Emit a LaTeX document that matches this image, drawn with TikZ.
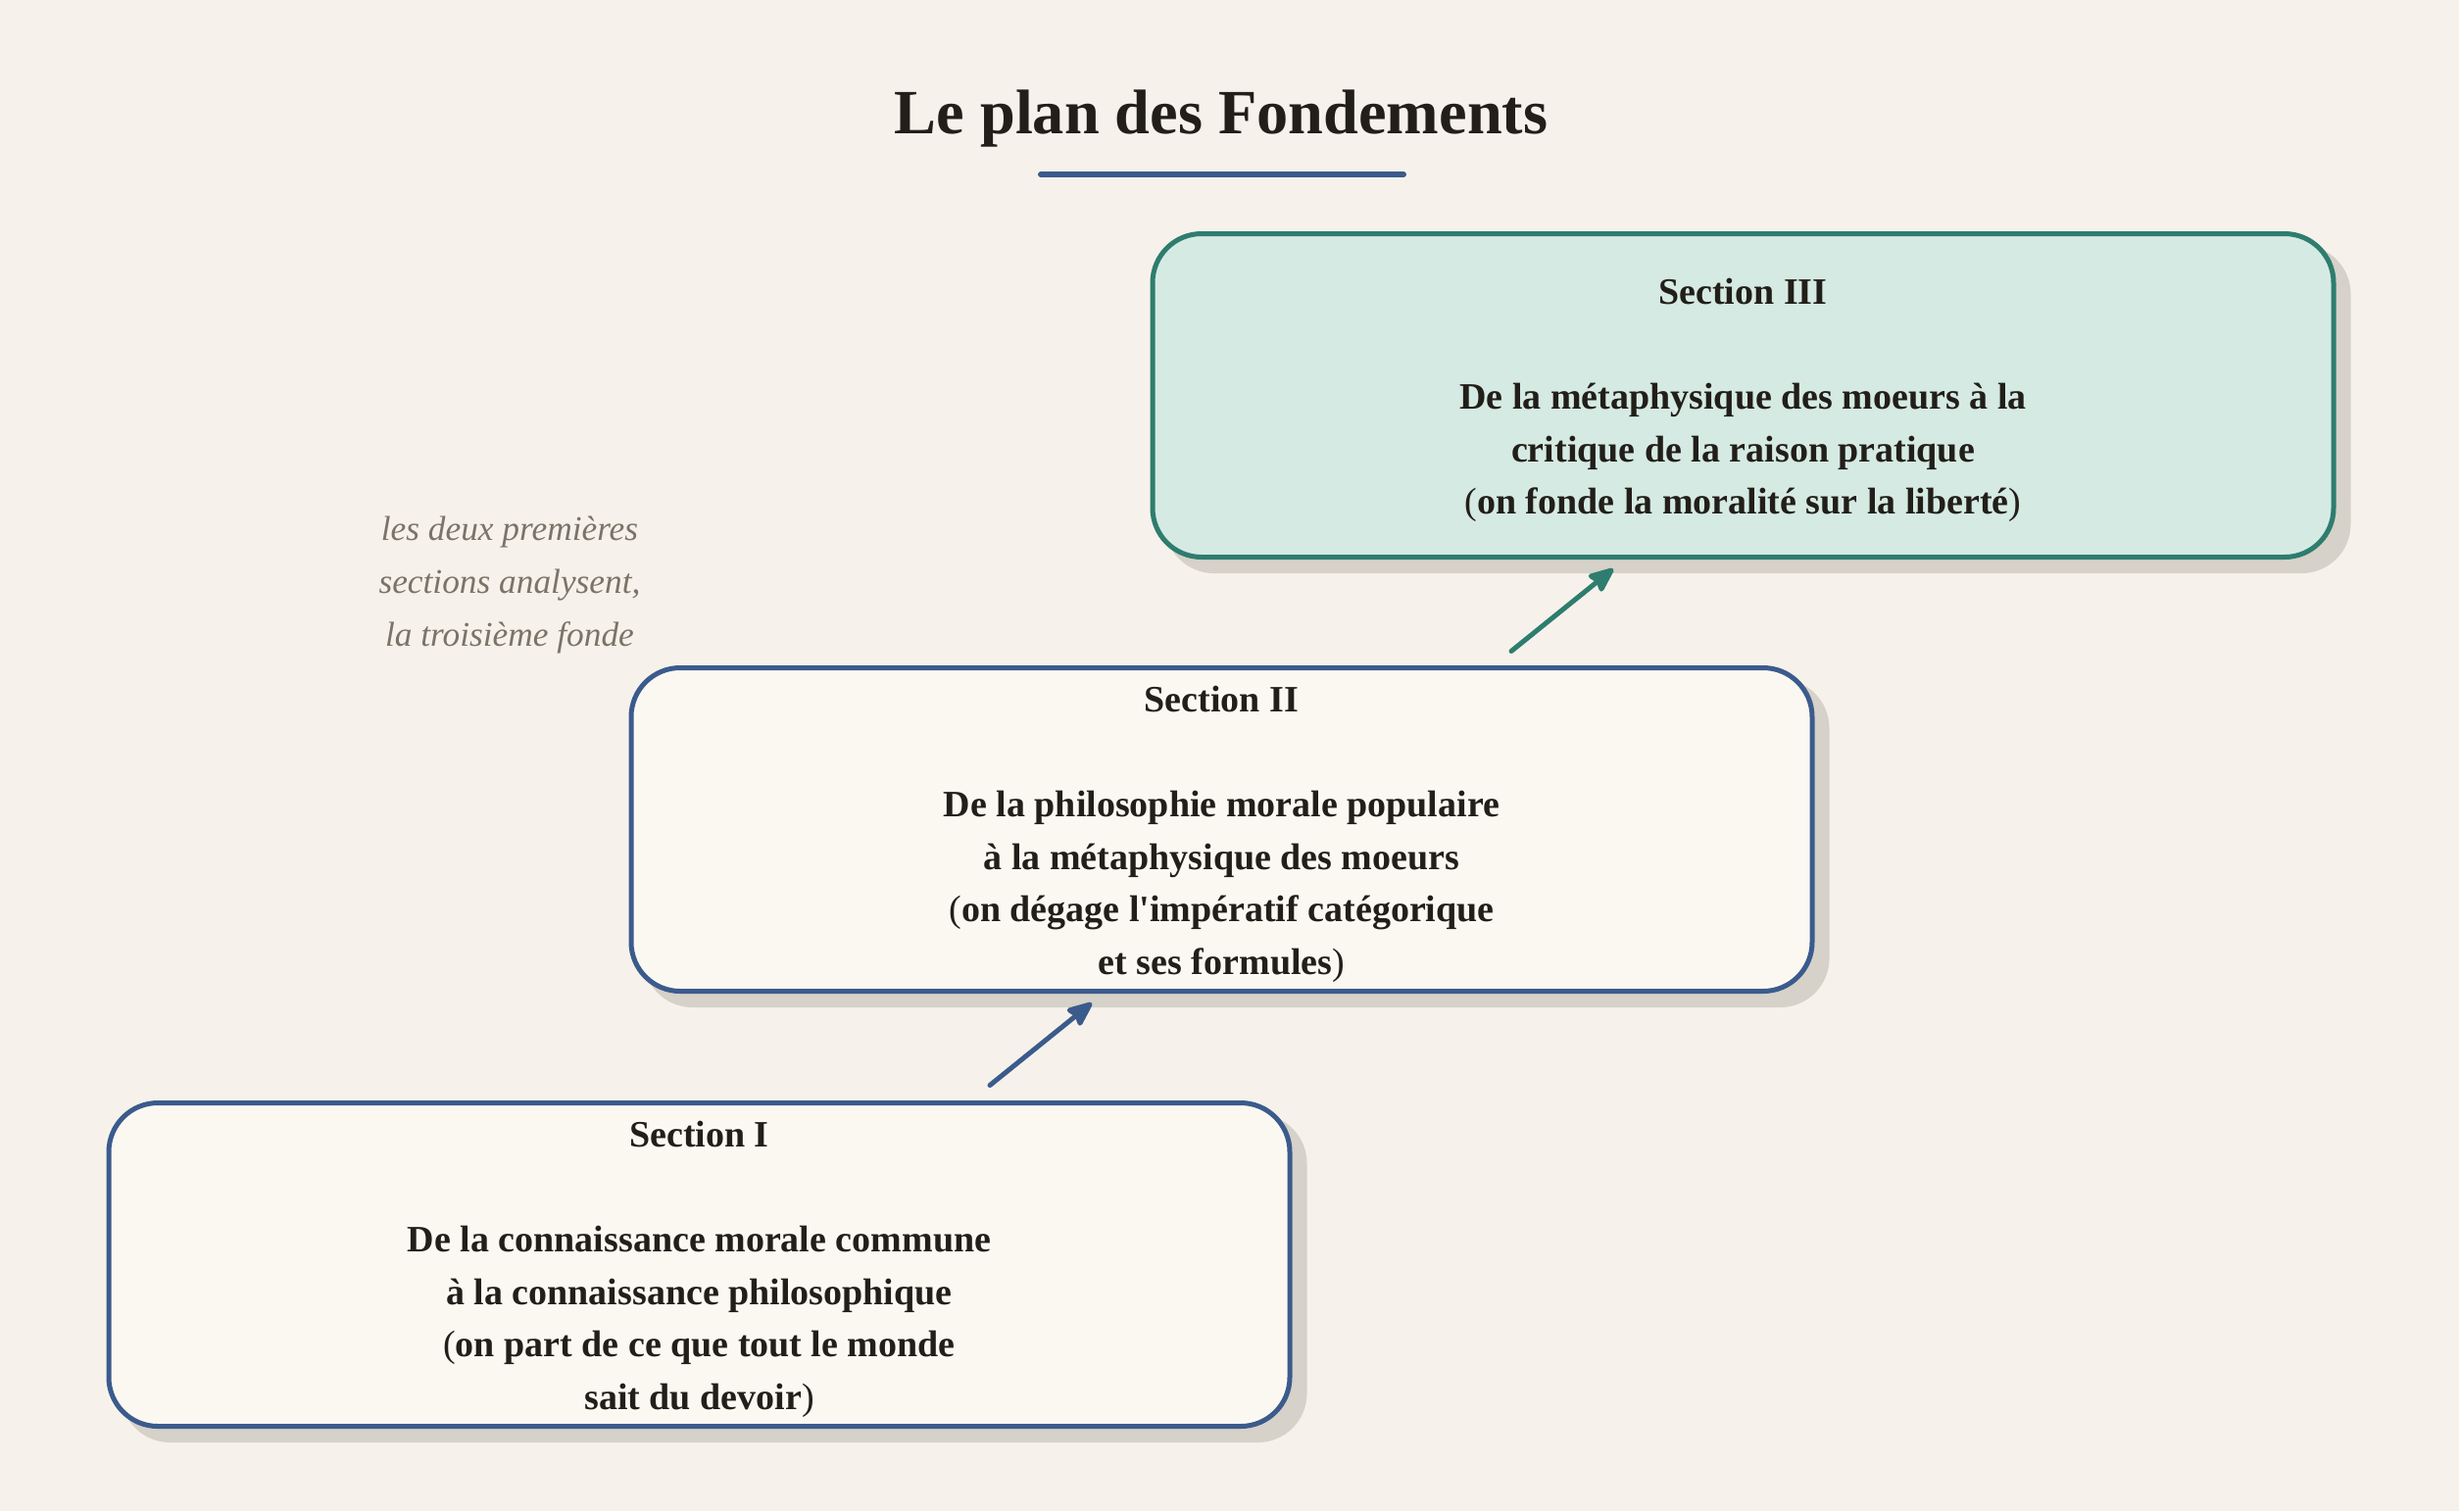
\documentclass[tikz,border=0pt]{standalone}
\usepackage{fontspec}
\setmainfont{Liberation Serif}
\usetikzlibrary{arrows.meta,calc,backgrounds}
\definecolor{bgc}{HTML}{F6F2EB}
\definecolor{boxc}{HTML}{FBF8F2}
\definecolor{tealfill}{HTML}{D5EAE3}
\definecolor{bluec}{HTML}{3B5B8D}
\definecolor{tealc}{HTML}{2E7D6E}
\definecolor{shadowc}{HTML}{D6D1C9}
\definecolor{inkc}{HTML}{221E19}
\definecolor{notec}{HTML}{7A7468}
\def\u{0.3pt}
\newcommand{\lp}{{\mdseries(}}
\newcommand{\rp}{{\mdseries)}}
\begin{document}
\begin{tikzpicture}[x=0.3pt,y=-0.3pt,
  secbox/.style={rounded corners=15pt, line width=1.5pt, minimum width=1205*\u, minimum height=330*\u, inner sep=0pt},
  bluebox/.style={secbox, draw=bluec, fill=boxc},
  tealbox/.style={secbox, draw=tealc, fill=tealfill},
  boxtext/.style={align=center, text=inkc, font=\fontsize{11.4}{16.05}\selectfont\bfseries, inner sep=0pt},
  conn/.style={line width=1.5pt, line cap=round, -{Stealth[length=9pt,width=7.5pt,inset=1.2pt,round]}},
  notetext/.style={align=center, text=notec, font=\fontsize{10.6}{16.1}\selectfont\itshape},
  shade/.style={fill=shadowc, rounded corners=15pt}
]
\useasboundingbox (0,0) rectangle (2509,1542);

\node[font=\fontsize{19.3}{23}\selectfont\bfseries, text=inkc, anchor=base] (title) at (1246,136) {Le plan des Fondements};
\coordinate (ul1) at (1062,178);
\coordinate (ul2) at (1432,178);
\draw[bluec, line width=1.8pt, line cap=round] (ul1) -- (ul2);

\node[tealbox] (s3) at (1778.5,403.5) {};
\node[bluebox] (s2) at (1246.5,846.5) {};
\node[bluebox] (s1) at (713.5,1290.5) {};

\node[boxtext] (t3) at ($(s3.center)+(0,5)$) {Section III\\[16.05pt]De la métaphysique des moeurs à la\\critique de la raison pratique\\\lp on fonde la moralité sur la liberté\rp};
\node[boxtext] (t2) at ($(s2.center)+(0,5)$) {Section II\\[16.05pt]De la philosophie morale populaire\\à la métaphysique des moeurs\\\lp on dégage l\textquotesingle impératif catégorique\\et ses formules\rp};
\node[boxtext] (t1) at ($(s1.center)+(0,5)$) {Section I\\[16.05pt]De la connaissance morale commune\\à la connaissance philosophique\\\lp on part de ce que tout le monde\\sait du devoir\rp};

\begin{scope}[on background layer]
\fill[bgc] (0,0) rectangle (2509,1542);
\foreach \n in {s1,s2,s3}{
  \fill[shade] ($(\n.north west)+(15,14)$) rectangle ($(\n.south east)+(15,14)$);
}
\end{scope}

\node[notetext] (note) at (520,597) {les deux premières\\sections analysent,\\la troisième fonde};

\coordinate (a1s) at ($(s1.north)+(296.5,-15.5)$);
\coordinate (a1e) at ($(s2.south)+(-132.5,9.5)$);
\coordinate (a2s) at ($(s2.north)+(295.5,-14.5)$);
\coordinate (a2e) at ($(s3.south)+(-132.5,9.5)$);
\draw[conn, bluec] (a1s) -- (a1e);
\draw[conn, tealc] (a2s) -- (a2e);
\end{tikzpicture}
\end{document}
